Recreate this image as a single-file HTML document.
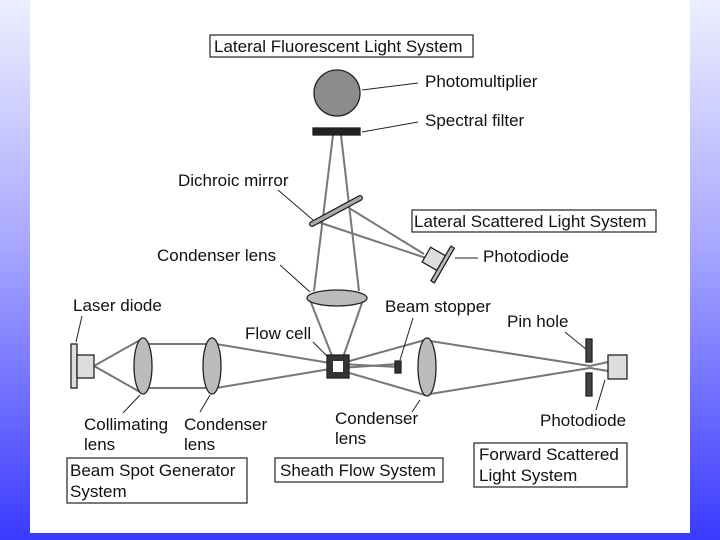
<!DOCTYPE html>
<html><head><style>
body{margin:0;width:720px;height:540px;overflow:hidden;background:linear-gradient(180deg,#eeeeff 0%,#a8a8ff 45%,#3a3aff 100%);}
svg{position:absolute;left:0;top:0}
text{font-family:"Liberation Sans",sans-serif;font-size:17px;fill:#111}
</style></head><body>
<svg width="720" height="540">
<rect x="30" y="0" width="660" height="533" fill="#fff"/>
<rect x="30" y="533" width="660" height="7" fill="#3a3aff"/>
<g fill="none" stroke="#222" stroke-width="1.2">
<rect x="210" y="35" width="263" height="22" fill="#fff"/>
<rect x="412" y="210" width="244" height="22" fill="#fff"/>
<rect x="67" y="458" width="180" height="45" fill="#fff"/>
<rect x="275" y="458" width="168" height="24" fill="#fff"/>
<rect x="474" y="443" width="153" height="44" fill="#fff"/>
</g>
<g stroke="#777" stroke-width="2" fill="none">
<line x1="333" y1="135" x2="314" y2="291"/>
<line x1="341" y1="135" x2="359" y2="291"/>
<line x1="318" y1="222" x2="426" y2="258"/>
<line x1="349" y1="208" x2="424" y2="254"/>
<line x1="310" y1="300" x2="336" y2="366"/>
<line x1="363" y1="300" x2="340" y2="366"/>
<line x1="94" y1="366" x2="140" y2="340"/>
<line x1="94" y1="366" x2="140" y2="392"/>
<line x1="145" y1="344" x2="212" y2="344"/>
<line x1="145" y1="388" x2="212" y2="388"/>
<line x1="216" y1="344" x2="336" y2="364"/>
<line x1="216" y1="388" x2="336" y2="368"/>
<line x1="340" y1="364" x2="398" y2="367"/>
<line x1="340" y1="368" x2="398" y2="364"/>
<line x1="346" y1="362" x2="425" y2="340"/>
<line x1="346" y1="372" x2="425" y2="395"/>
<line x1="430" y1="341" x2="590" y2="366"/>
<line x1="430" y1="394" x2="590" y2="368"/>
<line x1="590" y1="366" x2="608" y2="362"/>
<line x1="590" y1="368" x2="608" y2="371"/>
</g>
<g stroke="#222" stroke-width="1">
<line x1="362" y1="90" x2="418" y2="83"/>
<line x1="362" y1="132" x2="418" y2="122"/>
<line x1="278" y1="190" x2="313" y2="220"/>
<line x1="455" y1="258" x2="478" y2="258"/>
<line x1="280" y1="265" x2="310" y2="292"/>
<line x1="82" y1="316" x2="76" y2="342"/>
<line x1="313" y1="342" x2="328" y2="357"/>
<line x1="413" y1="318" x2="400" y2="360"/>
<line x1="565" y1="332" x2="587" y2="350"/>
<line x1="605" y1="380" x2="596" y2="410"/>
<line x1="420" y1="400" x2="412" y2="412"/>
<line x1="123" y1="413" x2="140" y2="395"/>
<line x1="200" y1="412" x2="210" y2="395"/>
</g>
<g stroke="#222" stroke-width="1.3">
<circle cx="337" cy="93" r="23" fill="#8c8c8c"/>
<rect x="313" y="128" width="47" height="7" fill="#222"/>
<line x1="312" y1="224" x2="360" y2="198" stroke="#222" stroke-width="6" stroke-linecap="round"/>
<line x1="312" y1="224" x2="360" y2="198" stroke="#aaa" stroke-width="3.5" stroke-linecap="round"/>
<g transform="translate(440,263) rotate(-60)"><rect x="-8" y="-16" width="17" height="17" fill="#ddd"/><rect x="-20" y="1" width="40" height="4" fill="#bbb"/></g>
<ellipse cx="337" cy="298" rx="30" ry="8" fill="#bbb"/>
<rect x="71" y="344" width="6" height="44" fill="#ddd"/>
<rect x="77" y="355" width="17" height="23" fill="#ddd"/>
<ellipse cx="143" cy="366" rx="9" ry="28" fill="#bbb"/>
<ellipse cx="212" cy="366" rx="9" ry="28" fill="#bbb"/>
<rect x="327" y="355" width="22" height="23" fill="#333"/>
<rect x="333" y="361" width="10" height="11" fill="#fff" stroke="none"/>
<rect x="395" y="361" width="6" height="12" fill="#333"/>
<ellipse cx="427" cy="367" rx="9" ry="29" fill="#bbb"/>
<rect x="586" y="339" width="6" height="23" fill="#444"/>
<rect x="586" y="373" width="6" height="23" fill="#444"/>
<rect x="608" y="355" width="19" height="24" fill="#ddd"/>
</g>
<text x="214" y="52">Lateral Fluorescent Light System</text>
<text x="425" y="87">Photomultiplier</text>
<text x="425" y="126">Spectral filter</text>
<text x="178" y="186">Dichroic mirror</text>
<text x="414" y="227">Lateral Scattered Light System</text>
<text x="157" y="261">Condenser lens</text>
<text x="483" y="262">Photodiode</text>
<text x="73" y="311">Laser diode</text>
<text x="385" y="312">Beam stopper</text>
<text x="507" y="327">Pin hole</text>
<text x="245" y="339">Flow cell</text>
<text x="84" y="430">Collimating</text>
<text x="84" y="450">lens</text>
<text x="184" y="430">Condenser</text>
<text x="184" y="450">lens</text>
<text x="335" y="424">Condenser</text>
<text x="335" y="444">lens</text>
<text x="540" y="426">Photodiode</text>
<text x="70" y="476">Beam Spot Generator</text>
<text x="70" y="497">System</text>
<text x="280" y="476">Sheath Flow System</text>
<text x="479" y="460">Forward Scattered</text>
<text x="479" y="481">Light System</text>
</svg>
</body></html>
